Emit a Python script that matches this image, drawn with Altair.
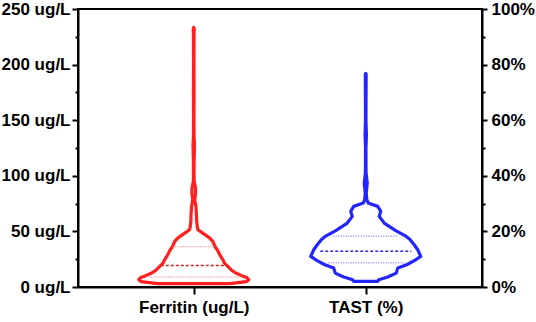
import altair as alt
import pandas as pd

categories = ["Ferritin (ug/L)", "TAST (%)"]

# Ferritin violin outline: level (ug/L) and relative half-width (density)
ferritin_level = [3.0, 4.8, 6.6, 8.5, 10.2, 12.6, 15.0, 18.5, 21.6, 24.0, 27.5, 30.0,
                  33.5, 36.0, 38.0, 41.0, 44.0, 46.0, 48.5, 51.5, 54.5, 60.5, 63.4,
                  68.0, 72.4, 78.4, 84.0, 89.0, 94.9, 100, 110, 128, 135, 150, 175,
                  200, 228, 232, 233.5]
ferritin_density = [36, 52.5, 55, 53, 48, 42, 38, 34, 30.5, 29.5, 27, 25.5,
                    23.5, 21.5, 20.5, 19, 16, 13, 9, 4.2, 3.5, 2.8, 2.8,
                    2.5, 2.2, 1.0, 1.8, 1.8, 0.4, 0.3, 0.3, 0.7, 0.3, 0.2, 0.3,
                    0.2, 0.3, 0.5, 0]

# TAST violin outline: level (%) and relative half-width (density)
tast_level = [2.0, 2.6, 3.6, 5.0, 6.8, 8.0, 9.6, 11.0, 13.4, 15.2, 17.2, 18.2, 20.3,
              23.0, 25.4, 27.2, 29.0, 30.2, 31.5, 33.8, 37.4, 41.0, 50.0, 54.7, 60.0,
              76.6, 76.8]
tast_density = [12, 13, 22, 30.5, 32, 41, 49, 55, 52, 48.5, 44, 40.5, 30,
                18.5, 13.5, 15, 12, 2.5, 1.0, 0.5, 1.5, 0.3, 0.2, 0.7, 0.2,
                0.4, 0]

# Quartiles (Q1, median, Q3) and their drawn half-widths
ferritin_quartiles = [9.0, 19.4, 36.2]
ferritin_q_density = [48, 33, 21]
tast_quartiles = [8.7, 12.9, 18.3]
tast_q_density = [40, 45.5, 32.5]

DENS_TO_X = 1 / 172.0
FONT = "Liberation Sans"


def outline(center, levels, dens):
    return pd.DataFrame({
        "value": levels,
        "lo": [center - d * DENS_TO_X for d in dens],
        "hi": [center + d * DENS_TO_X for d in dens],
    })


def quart(center, qs, dens, kind):
    return pd.DataFrame({
        "value": qs,
        "lo": [center - d * DENS_TO_X for d in dens],
        "hi": [center + d * DENS_TO_X for d in dens],
        "kind": kind,
    })


x_axis = alt.Axis(
    values=[0, 1],
    labelExpr="datum.value == 0 ? '%s' : '%s'" % (categories[0], categories[1]),
    title=None, grid=False, tickSize=7, tickWidth=2, tickColor="black",
    domainColor="black", domainWidth=2, labelFont=FONT, labelFontSize=17,
    labelFontWeight="bold", labelColor="black", labelPadding=5,
)
x_scale = alt.Scale(domain=[-0.673, 1.676], nice=False, zero=False)

left_axis = alt.Axis(
    orient="left", values=list(range(0, 251, 25)),
    labelExpr="datum.value % 50 === 0 ? datum.value + ' ug/L' : ''",
    title=None, grid=False, labelOverlap=False,
    tickSize={"condition": {"test": "datum.value % 50 === 0", "value": 6}, "value": 3},
    tickWidth=2, tickColor="black", domainColor="black", domainWidth=2,
    labelFont=FONT, labelFontSize=17, labelFontWeight="bold", labelColor="black",
    labelPadding=2,
)
right_axis = alt.Axis(
    orient="right", values=list(range(0, 101, 10)),
    labelExpr="datum.value % 20 === 0 ? datum.value + '%' : ''",
    title=None, grid=False, labelOverlap=False,
    tickSize={"condition": {"test": "datum.value % 20 === 0", "value": 5}, "value": 3},
    tickWidth=2, tickColor="black", domainColor="black", domainWidth=2,
    labelFont=FONT, labelFontSize=17, labelFontWeight="bold", labelColor="black",
    labelPadding=4,
)


def violin(df_out, df_q, color, med_color, q_color, yscale, yaxis):
    y = alt.Y("value:Q", scale=yscale, axis=yaxis)
    x = alt.X("lo:Q", scale=x_scale, axis=x_axis)
    area = alt.Chart(df_out).mark_area(
        orient="horizontal", interpolate="linear", stroke=color,
        strokeWidth=3.2, fillOpacity=0, strokeJoin="round",
    ).encode(y=y, x=x, x2="hi:Q")
    med = alt.Chart(df_q[df_q["kind"] == "median"]).mark_rule(
        color=med_color, strokeWidth=1.5, strokeDash=[3, 2]
    ).encode(y=y, x=x, x2="hi:Q")
    qs = alt.Chart(df_q[df_q["kind"] == "quartile"]).mark_rule(
        color=q_color, strokeWidth=1.2, strokeDash=[1, 1.5]
    ).encode(y=y, x=x, x2="hi:Q")
    return alt.layer(area, med, qs)


fq = quart(0, ferritin_quartiles, ferritin_q_density, ["quartile", "median", "quartile"])
tq = quart(1, tast_quartiles, tast_q_density, ["quartile", "median", "quartile"])

ferr = violin(outline(0, ferritin_level, ferritin_density), fq,
              "#ff1f1f", "#d42020", "#ff6a6a",
              alt.Scale(domain=[0, 250], nice=False), left_axis)
tast = violin(outline(1, tast_level, tast_density), tq,
              "#2424ff", "#2a2ad8", "#7a7aff",
              alt.Scale(domain=[0, 100], nice=False), right_axis)

chart = alt.layer(ferr, tast).resolve_scale(y="independent").properties(
    width=404, height=278,
    autosize=alt.AutoSizeParams(type="none"),
    padding={"left": 78, "top": 9, "right": 54, "bottom": 35},
    background="white",
).configure_view(stroke="black", strokeWidth=2)

chart.save("out.html", embed_options={"renderer": "svg", "actions": False})
